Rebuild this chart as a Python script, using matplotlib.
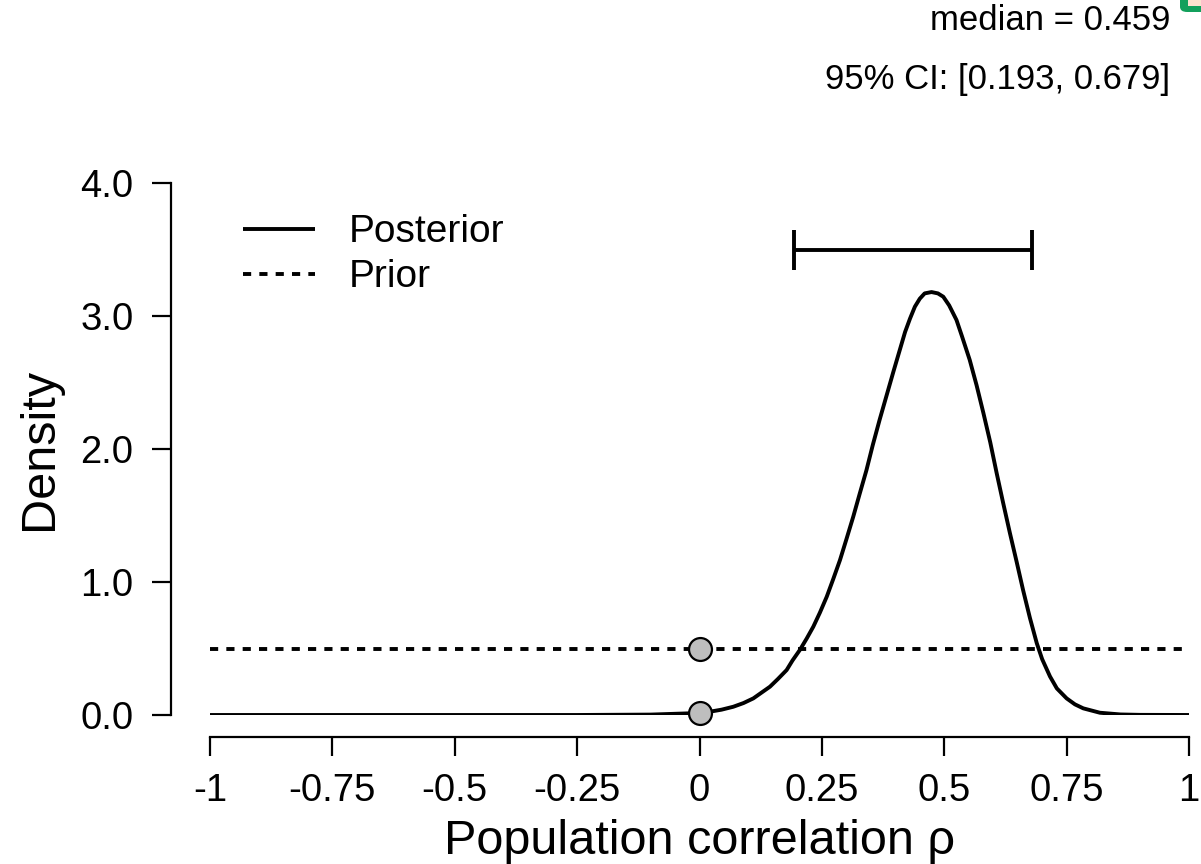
import numpy as np
import matplotlib
matplotlib.use("Agg")
import matplotlib.pyplot as plt
from matplotlib.patches import FancyBboxPatch


plt.rcParams['font.family'] = ['Liberation Sans', 'DejaVu Sans']

# Posterior density of rho
rho_post = [-1.0, -0.75, -0.5, -0.25, -0.1, 0.0, 0.0215, 0.045, 0.069, 0.09,
            0.110, 0.144, 0.16, 0.178, 0.19, 0.205, 0.219, 0.2325, 0.246,
            0.260, 0.273, 0.287, 0.30, 0.314, 0.327, 0.341, 0.354, 0.368,
            0.382, 0.396, 0.4096, 0.42, 0.430, 0.44, 0.450, 0.46, 0.474,
            0.487, 0.498, 0.51, 0.525, 0.536, 0.552, 0.566, 0.580, 0.594,
            0.607, 0.62, 0.634, 0.648, 0.661, 0.675, 0.689, 0.70, 0.716,
            0.73, 0.750, 0.767, 0.784, 0.818, 0.86, 0.9, 1.0]
dens_post = [0.0, 0.0, 0.0, 0.0, 0.003, 0.015, 0.025, 0.04, 0.062, 0.09,
             0.125, 0.213, 0.27, 0.338, 0.41, 0.489, 0.575, 0.664, 0.77,
             0.89, 1.02, 1.165, 1.32, 1.49, 1.66, 1.84, 2.03, 2.22,
             2.40, 2.58, 2.75, 2.88, 2.98, 3.07, 3.13, 3.17, 3.18,
             3.17, 3.145, 3.08, 2.97, 2.85, 2.67, 2.48, 2.27, 2.05,
             1.82, 1.6, 1.37, 1.15, 0.94, 0.73, 0.54, 0.42, 0.29,
             0.2, 0.125, 0.08, 0.05, 0.017, 0.004, 0.001, 0.0]

# Uniform prior on [-1, 1]
rho_prior = [-1.0, 1.0]
dens_prior = [0.5, 0.5]

# Densities at rho = 0
point_rho = [0.0, 0.0]
point_dens = [0.5, 0.015]

median = 0.459
ci_low, ci_high = 0.193, 0.679
ci_height = 3.5

xticks = [-1, -0.75, -0.5, -0.25, 0, 0.25, 0.5, 0.75, 1]
xticklabels = ['-1', '-0.75', '-0.5', '-0.25', '0', '0.25', '0.5', '0.75', '1']
yticks = [0, 1, 2, 3, 4]
yticklabels = ['0.0', '1.0', '2.0', '3.0', '4.0']

W, H = 1201, 864
fig = plt.figure(figsize=(W / 100, H / 100), dpi=100)
ax = fig.add_axes([210 / W, (H - 715) / H, (1189 - 210) / W, (715 - 183) / H])

lw = 2.8
ax.plot(rho_post, dens_post, color='black', lw=lw, label='Posterior',
        solid_capstyle='butt', solid_joinstyle='round', zorder=3)
ax.plot(rho_prior, dens_prior, color='black', lw=lw, label='Prior',
        linestyle=(0, (2.1, 2.1)), zorder=2)
ax.plot(point_rho, point_dens, 'o', ms=16.5, mfc='#bebebe', mec='black',
        mew=1.6, zorder=4, clip_on=False)

# 95% credible interval
ax.errorbar([median], [ci_height], xerr=[[median - ci_low], [ci_high - median]],
            fmt='none', ecolor='black', elinewidth=lw, capsize=14.5,
            capthick=lw)

ax.set_xlim(-1, 1)
ax.set_ylim(0, 4)
ax.set_xticks(xticks)
ax.set_xticklabels(xticklabels)
ax.set_yticks(yticks)
ax.set_yticklabels(yticklabels)

for side in ['top', 'right']:
    ax.spines[side].set_visible(False)
ax.spines['left'].set_position(('outward', 28))
ax.spines['bottom'].set_position(('outward', 16))
ax.spines['left'].set_bounds(0, 4)
ax.spines['bottom'].set_bounds(-1, 1)
ax.spines['left'].set_linewidth(1.6)
ax.spines['bottom'].set_linewidth(1.6)
ax.tick_params(axis='both', direction='out', length=14, width=1.6,
               labelsize=27.5, color='black')
ax.tick_params(axis='y', pad=13)
ax.tick_params(axis='x', pad=12)

ax.set_xlabel('Population correlation ρ', fontsize=35, labelpad=7)
ax.set_ylabel('Density', fontsize=35, labelpad=13)

leg = ax.legend(loc='upper left', bbox_to_anchor=(0.0337, 0.941), frameon=False,
                fontsize=28, handlelength=1.85, handletextpad=0.88,
                labelspacing=0.23, borderpad=0, borderaxespad=0)

fig.text(1170 / W, 1 - 20 / H, 'median = 0.459', ha='right', va='center',
         fontsize=25)
fig.text(1170 / W, 1 - 80 / H, '95% CI: [0.193, 0.679]', ha='right',
         va='center', fontsize=25)

# small badge in the top right corner
fig.patches.append(FancyBboxPatch((1180 / W, 1 - 12 / H), 40 / W, 30 / H,
                                  boxstyle='round,pad=0,rounding_size=0.006',
                                  transform=fig.transFigure, fc='#13a05c',
                                  ec='none', clip_on=False))
fig.patches.append(FancyBboxPatch((1188 / W, 1 - 6 / H), 20 / W, 10 / H,
                                  boxstyle='square,pad=0',
                                  transform=fig.transFigure, fc='#fde2cf',
                                  ec='none', clip_on=False))

fig.savefig('out.png', dpi=100)
